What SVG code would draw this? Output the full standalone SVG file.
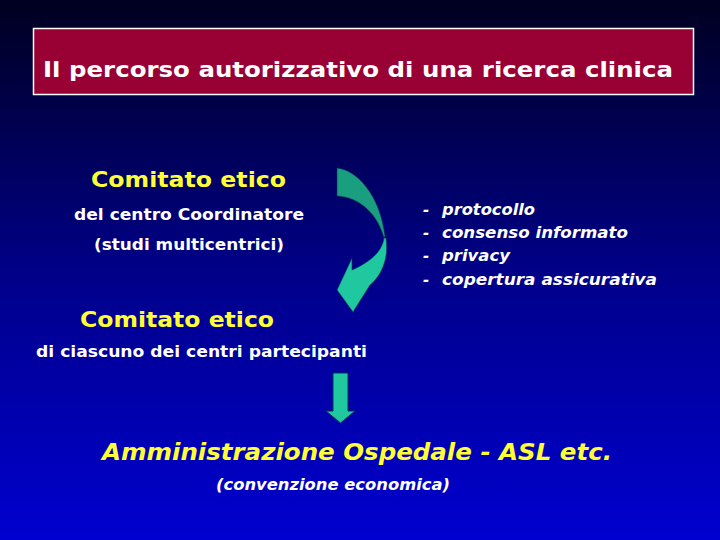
<svg xmlns="http://www.w3.org/2000/svg" width="720" height="540" viewBox="0 0 720 540">
<defs>
<linearGradient id="bg" x1="0" y1="0" x2="0" y2="1">
<stop offset="0" stop-color="#000020"/>
<stop offset="0.5" stop-color="#000088"/>
<stop offset="1" stop-color="#0000d0"/>
</linearGradient>
<style>
.t{font-family:"DejaVu Sans","Liberation Sans",sans-serif;font-weight:bold;}
.y{fill:#ffff33;}
.w{fill:#ffffff;}
.i{font-style:italic;}
</style>
</defs>
<rect width="720" height="540" fill="url(#bg)"/>
<g id="title">
<rect x="33.5" y="28.5" width="660" height="66" fill="#990033" stroke="#ffffff" stroke-width="1.5"/>
<text class="t w" x="43" y="77" font-size="22" textLength="630" lengthAdjust="spacingAndGlyphs">Il percorso autorizzativo di una ricerca clinica</text>
</g>
<g id="ce-coord">
<text class="t y" x="91" y="187" font-size="22" textLength="195" lengthAdjust="spacingAndGlyphs">Comitato etico</text>
<text class="t w" x="74" y="220" font-size="15" textLength="230" lengthAdjust="spacingAndGlyphs">del centro Coordinatore</text>
<text class="t w" x="94" y="250" font-size="15" textLength="190" lengthAdjust="spacingAndGlyphs">(studi multicentrici)</text>
</g>
<g id="requirements">
<text class="t w i" font-size="15">
<tspan x="423" y="215">-</tspan><tspan x="442" y="215" textLength="93" lengthAdjust="spacingAndGlyphs">protocollo</tspan>
<tspan x="423" y="238">-</tspan><tspan x="442" y="238" textLength="186" lengthAdjust="spacingAndGlyphs">consenso informato</tspan>
<tspan x="423" y="261">-</tspan><tspan x="442" y="261" textLength="68" lengthAdjust="spacingAndGlyphs">privacy</tspan>
<tspan x="423" y="285">-</tspan><tspan x="442" y="285" textLength="215" lengthAdjust="spacingAndGlyphs">copertura assicurativa</tspan>
</text>
</g>
<g id="ce-centri">
<text class="t y" x="80" y="327" font-size="22" textLength="194" lengthAdjust="spacingAndGlyphs">Comitato etico</text>
<text class="t w" x="36" y="357" font-size="15" textLength="331" lengthAdjust="spacingAndGlyphs">di ciascuno dei centri partecipanti</text>
</g>
<g id="amministrazione">
<text class="t y i" x="102" y="460" font-size="23" textLength="510" lengthAdjust="spacingAndGlyphs">Amministrazione Ospedale - ASL etc.</text>
<text class="t w i" x="216" y="490" font-size="15" textLength="234" lengthAdjust="spacingAndGlyphs">(convenzione economica)</text>
</g>
<g id="connectors">
<path d="M337,168 C357,170 380,195 385,236 L384,238 C378,215 360,197 337,196 Z" fill="#1a9e80" stroke="#0a3050" stroke-width="0.6"/>
<path d="M384,238 C382,252 370,262 352,270 L352,258 L337,290 L353,312 L370,285 C382,275 389,258 386,238 Z" fill="#20c8a0" stroke="#0a3050" stroke-width="0.6"/>
<path d="M333,373 L348,373 L348,411 L355,411 L340.5,423 L326,411 L333,411 Z" fill="#20c8a0" stroke="#0a3050" stroke-width="1"/>
</g>
</svg>
